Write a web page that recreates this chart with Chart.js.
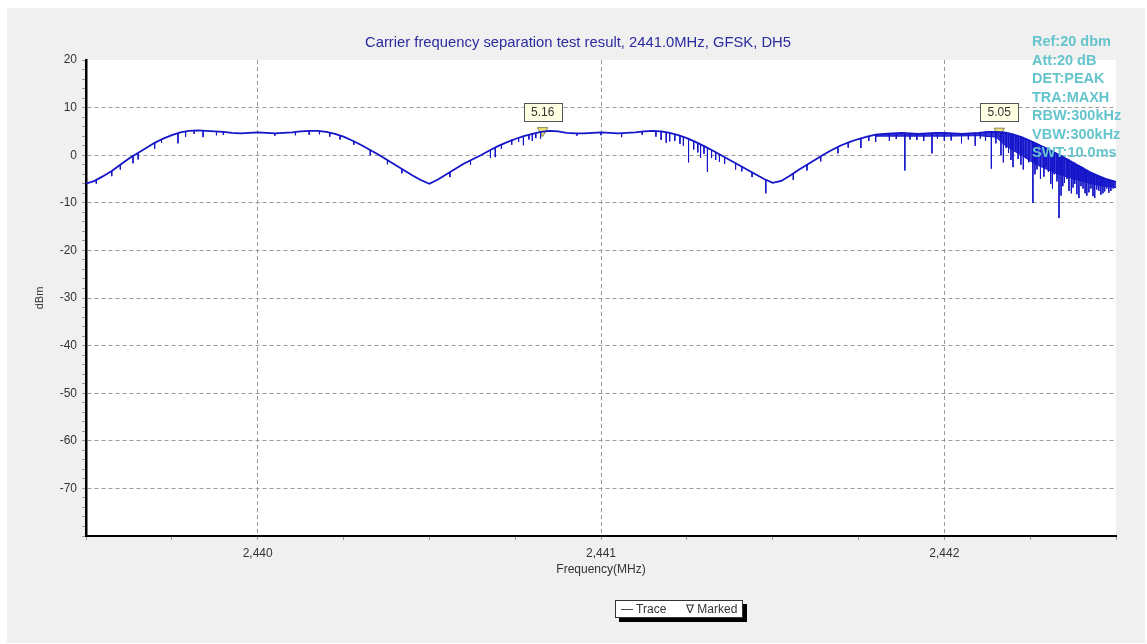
<!DOCTYPE html>
<html lang="en">
<head>
<meta charset="UTF-8">
<title>Carrier frequency separation</title>
<script src="https://cdn.jsdelivr.net/npm/chart.js"></script>
<style>
    body { margin: 0; background: #fff; font-family: "Liberation Sans", Arial, sans-serif; }
    #panel { position: absolute; left: 7px; top: 8px; width: 1138px; height: 635px; background: #f0f0f0; }
    #title { position: absolute; left: 348px; width: 460px; top: 33px; text-align: center; color: #2b2ba0; font-size: 14.8px; line-height: 18px; white-space: nowrap; }
    #info { position: absolute; left: 1032px; top: 32px; color: #66c4cc; font-weight: bold; font-size: 14.5px; line-height: 18.5px; white-space: pre; }
    #legend { position: absolute; left: 615px; top: 600px; width: 126px; height: 16px; background: #fff; border: 1px solid #333;
              box-shadow: 4px 4px 0 #000; font-size: 12px; color: #333; line-height: 16px; }
    #legend span { position: absolute; top: 0; }
</style>
</head>
<body>
<div id="panel"><canvas id="chart" width="1138" height="635"></canvas></div>
<div id="title"></div>
<div id="info"></div>
<div id="legend"><span style="left:5px">&mdash; Trace</span><span style="left:70px">&#8711; Marked</span></div>

<script>
    // трасса (огибающая), MHz / dBm
    const traceFreq = [
        2439.500, 2439.525, 2439.550, 2439.575, 2439.600, 2439.625, 2439.650, 2439.675, 2439.700, 2439.725,
        2439.750, 2439.775, 2439.800, 2439.825, 2439.850, 2439.875, 2439.900, 2439.925, 2439.950, 2439.975,
        2440.000, 2440.025, 2440.050, 2440.075, 2440.100, 2440.125, 2440.150, 2440.175, 2440.200, 2440.225,
        2440.250, 2440.275, 2440.300, 2440.325, 2440.350, 2440.375, 2440.400, 2440.425, 2440.450, 2440.475,
        2440.500, 2440.525, 2440.550, 2440.575, 2440.600, 2440.625, 2440.650, 2440.675, 2440.700, 2440.725,
        2440.750, 2440.775, 2440.800, 2440.825, 2440.850, 2440.875, 2440.900, 2440.925, 2440.950, 2440.975,
        2441.000, 2441.025, 2441.050, 2441.075, 2441.100, 2441.125, 2441.150, 2441.175, 2441.200, 2441.225,
        2441.250, 2441.275, 2441.300, 2441.325, 2441.350, 2441.375, 2441.400, 2441.425, 2441.450, 2441.475,
        2441.500, 2441.525, 2441.550, 2441.575, 2441.600, 2441.625, 2441.650, 2441.675, 2441.700, 2441.725,
        2441.750, 2441.775, 2441.800, 2441.825, 2441.850, 2441.875, 2441.900, 2441.925, 2441.950, 2441.975,
        2442.000, 2442.025, 2442.050, 2442.075, 2442.100, 2442.125, 2442.150, 2442.175, 2442.200, 2442.225,
        2442.250, 2442.275, 2442.300, 2442.325, 2442.350, 2442.375, 2442.400, 2442.425, 2442.450, 2442.475,
        2442.500
    ];
    const traceDbm = [
        -6.0, -5.4, -4.4, -3.3, -2.0, -0.7, 0.4, 1.5, 2.6, 3.5,
        4.2, 4.8, 5.1, 5.2, 5.1, 5.0, 4.9, 4.7, 4.6, 4.7,
        4.8, 4.7, 4.6, 4.7, 4.8, 5.0, 5.1, 5.1, 4.9, 4.5,
        3.9, 3.1, 2.2, 1.2, 0.2, -0.9, -2.0, -3.1, -4.2, -5.2,
        -6.0, -5.1, -4.0, -2.9, -1.8, -0.9, 0.0, 1.0, 1.9, 2.7,
        3.4, 4.0, 4.5, 4.9, 5.1, 5.0, 4.7, 4.6, 4.6, 4.7,
        4.8, 4.7, 4.6, 4.7, 4.8, 5.0, 5.1, 5.0, 4.7, 4.2,
        3.6, 2.8, 1.9, 1.0, 0.0, -1.0, -2.0, -3.0, -4.0, -5.0,
        -5.8, -5.4, -4.3, -3.1, -2.0, -0.9, 0.2, 1.2, 2.1, 2.8,
        3.4, 3.9, 4.3, 4.5, 4.6, 4.7, 4.6, 4.5, 4.6, 4.7,
        4.7, 4.6, 4.5, 4.6, 4.7, 4.9, 4.9, 4.8, 4.4, 3.8,
        3.0, 2.2, 1.3, 0.4, -0.6, -1.6, -2.6, -3.6, -4.4, -5.1,
        -5.6
    ];

    // провалы шума: [частота, верх, низ]
    const spikes = [
        [2439.530, -5.2, -6.0], [2439.575, -3.3, -4.4], [2439.600, -2.0, -3.0], [2439.637, -0.1, -1.7],
        [2439.652, 0.4, -0.9], [2439.700, 2.6, 1.4], [2439.720, 3.4, 2.6], [2439.768, 4.6, 2.5],
        [2439.790, 5.0, 3.9], [2439.815, 5.2, 4.5], [2439.841, 5.1, 3.8], [2439.880, 5.0, 4.2],
        [2439.900, 4.9, 4.3], [2440.050, 4.6, 4.1], [2440.110, 4.9, 4.2], [2440.150, 5.1, 4.3],
        [2440.180, 5.1, 4.4], [2440.210, 4.8, 3.9], [2440.240, 4.2, 3.3], [2440.280, 3.0, 2.2],
        [2440.328, 1.1, 0.0], [2440.378, -1.0, -1.9], [2440.420, -2.9, -3.8], [2440.560, -3.6, -4.6],
        [2440.620, -1.1, -2.0], [2440.678, 1.1, -0.6], [2440.692, 1.6, -0.4], [2440.710, 2.2, 1.3],
        [2440.740, 3.3, 2.2], [2440.760, 3.7, 2.8], [2440.774, 4.0, 2.1], [2440.790, 4.3, 3.3],
        [2440.800, 4.5, 3.0], [2440.810, 4.6, 3.6], [2440.824, 4.9, 3.5], [2440.930, 4.6, 4.1],
        [2441.000, 4.8, 4.2], [2441.060, 4.6, 3.8], [2441.120, 5.0, 4.3], [2441.160, 5.1, 3.9],
        [2441.175, 5.0, 3.2], [2441.190, 4.8, 2.6], [2441.200, 4.7, 2.9], [2441.215, 4.4, 3.0],
        [2441.230, 4.1, 2.4], [2441.240, 3.9, 2.0], [2441.255, 3.5, -1.5], [2441.270, 3.0, 1.2],
        [2441.282, 2.6, 0.6], [2441.290, 2.3, -0.5], [2441.300, 2.0, 0.3], [2441.310, 1.6, -3.5],
        [2441.322, 1.1, -0.6], [2441.334, 0.6, -1.0], [2441.345, 0.2, -1.4], [2441.360, -0.4, -1.8],
        [2441.392, -1.7, -3.0], [2441.410, -2.4, -3.4], [2441.440, -3.6, -4.6], [2441.480, -5.1, -8.0],
        [2441.560, -3.9, -5.2], [2441.600, -2.0, -3.2], [2441.640, -0.2, -1.3], [2441.690, 1.8, 0.4],
        [2441.720, 2.6, 1.6], [2441.757, 3.5, 1.5], [2441.780, 4.0, 3.0], [2441.800, 4.3, 2.8],
        [2441.840, 4.6, 3.0], [2441.860, 4.6, 3.4], [2441.885, 4.7, -3.2], [2441.900, 4.6, 3.3],
        [2441.920, 4.5, 3.2], [2441.940, 4.5, 3.0], [2441.964, 4.7, 0.4], [2441.980, 4.7, 3.5],
        [2442.000, 4.7, 3.0], [2442.020, 4.6, 3.1], [2442.050, 4.5, 2.5], [2442.070, 4.6, 3.3],
        [2442.090, 4.7, 2.0], [2442.105, 4.7, 3.5], [2442.120, 4.9, 3.0], [2442.137, 4.9, -2.8],
        [2442.150, 4.9, 2.5], [2442.165, 4.8, 0.0], [2442.172, 4.8, -1.5], [2442.180, 4.8, 1.5],
        [2442.187, 4.7, 0.5], [2442.194, 4.5, -1.0], [2442.200, 4.4, -2.5], [2442.208, 4.2, 1.0],
        [2442.215, 4.0, -0.8], [2442.223, 3.8, -2.0], [2442.230, 3.6, -3.0], [2442.237, 3.4, -0.5],
        [2442.246, 3.1, -1.5], [2442.258, 2.8, -10.0], [2442.264, 2.6, -4.0], [2442.270, 2.4, -3.0],
        [2442.280, 2.1, -5.0], [2442.290, 1.8, -4.5], [2442.296, 1.6, -2.5], [2442.303, 1.3, -3.5],
        [2442.310, 1.0, -6.0], [2442.315, 0.9, -7.0], [2442.320, 0.7, -4.0], [2442.328, 0.4, -5.5],
        [2442.334, 0.2, -13.2], [2442.340, 0.0, -8.5], [2442.345, -0.2, -6.5], [2442.350, -0.4, -5.8],
        [2442.357, -0.7, -5.0], [2442.363, -0.9, -7.5], [2442.370, -1.2, -8.0], [2442.375, -1.4, -6.8],
        [2442.380, -1.6, -6.0], [2442.386, -1.9, -8.2], [2442.392, -2.1, -9.0], [2442.398, -2.3, -6.5],
        [2442.404, -2.6, -7.0], [2442.410, -2.9, -8.0], [2442.415, -3.2, -8.5], [2442.421, -3.4, -7.8],
        [2442.427, -3.7, -7.0], [2442.433, -3.9, -8.6], [2442.438, -4.1, -9.0], [2442.444, -4.3, -7.2],
        [2442.450, -4.4, -7.5], [2442.456, -4.6, -8.3], [2442.462, -4.8, -8.0], [2442.467, -4.9, -7.6],
        [2442.473, -5.1, -7.0], [2442.479, -5.2, -7.9], [2442.485, -5.3, -7.5], [2442.492, -5.4, -7.0]
    ];

    // нижняя граница плотного шума справа
    const bandFreq = [2441.80, 2441.90, 2442.00, 2442.10, 2442.15, 2442.175, 2442.20, 2442.225, 2442.25, 2442.275,
                      2442.30, 2442.325, 2442.35, 2442.375, 2442.40, 2442.425, 2442.45, 2442.475, 2442.50];
    const bandLow = [4.0, 4.0, 4.0, 4.1, 3.8, 2.2, 1.0, 0.0, -1.2, -2.2,
                     -3.0, -3.8, -4.4, -4.9, -5.4, -5.9, -6.3, -6.6, -6.8];

    // маркеры
    const markerFreq = [2440.83, 2442.16];
    const markerDbm = [5.16, 5.05];
    const markerLabel = ['5.16', '5.05'];

    const infoLines = ['Ref:20 dbm', 'Att:20 dB', 'DET:PEAK', 'TRA:MAXH', 'RBW:300kHz', 'VBW:300kHz', 'SWT:10.0ms'];
    const titleText = 'Carrier frequency separation test result, 2441.0MHz, GFSK, DH5';

    document.getElementById('info').textContent = infoLines.join('\n');
    document.getElementById('title').textContent = titleText;

    const spikeData = [];
    spikes.forEach(s => {
        spikeData.push({ x: s[0], y: s[1] }, { x: s[0], y: s[2] }, { x: s[0], y: null });
    });

    const blue = '#1414c8';

    const whiteArea = {
        id: 'whiteArea',
        beforeDraw(chart) {
            const { ctx, chartArea: a } = chart;
            ctx.save();
            ctx.fillStyle = '#fff';
            ctx.fillRect(a.left, a.top, a.right - a.left, a.bottom - a.top);
            ctx.restore();
        }
    };

    const markerBoxes = {
        id: 'markerBoxes',
        afterDatasetsDraw(chart) {
            const { ctx, scales: { x, y } } = chart;
            ctx.save();
            ctx.font = '12px "Liberation Sans", Arial, sans-serif';
            ctx.textAlign = 'center';
            ctx.textBaseline = 'middle';
            markerFreq.forEach((f, i) => {
                const px = x.getPixelForValue(f);
                const py = y.getPixelForValue(markerDbm[i]);
                const w = 38, h = 18;
                const top = py - 6 - h - 4;
                ctx.fillStyle = '#ffffe4';
                ctx.fillRect(px - w / 2, top, w, h);
                ctx.strokeStyle = '#555';
                ctx.lineWidth = 1;
                ctx.strokeRect(Math.round(px - w / 2) + 0.5, Math.round(top) + 0.5, w, h);
                ctx.fillStyle = '#333';
                ctx.fillText(markerLabel[i], px, top + h / 2 + 1);
            });
            ctx.restore();
        }
    };

    const isInt = v => Math.abs(v - Math.round(v)) < 1e-6;

    new Chart(document.getElementById('chart'), {
        type: 'scatter',
        data: {
            datasets: [
                {
                    label: 'Trace',
                    data: traceFreq.map((f, i) => ({ x: f, y: traceDbm[i] })),
                    showLine: true,
                    borderColor: blue,
                    borderWidth: 1.8,
                    pointRadius: 0
                },
                {
                    label: 'Noise',
                    data: spikeData,
                    showLine: true,
                    spanGaps: false,
                    borderColor: blue,
                    borderWidth: 1,
                    pointRadius: 0
                },
                {
                    label: 'Band',
                    data: bandFreq.map((f, i) => ({ x: f, y: bandLow[i] })),
                    showLine: true,
                    borderColor: blue,
                    borderWidth: 1,
                    backgroundColor: 'rgba(20, 20, 210, 0.85)',
                    fill: 0,
                    pointRadius: 0
                },
                {
                    label: 'Marked',
                    data: markerFreq.map((f, i) => ({ x: f, y: markerDbm[i] })),
                    pointStyle: 'triangle',
                    rotation: 180,
                    pointRadius: 6,
                    backgroundColor: '#ece57a',
                    borderColor: '#8a8650',
                    borderWidth: 1
                }
            ]
        },
        options: {
            responsive: false,
            animation: false,
            layout: { padding: { left: 0, right: 29, top: 52, bottom: 61 } },
            plugins: {
                legend: { display: false },
                tooltip: { enabled: false },
                title: { display: false }
            },
            scales: {
                x: {
                    type: 'linear',
                    min: 2439.5,
                    max: 2442.5,
                    afterFit: s => { s.height = 46; },
                    ticks: {
                        stepSize: 0.25,
                        autoSkip: false,
                        maxRotation: 0,
                        padding: 6,
                        color: '#333',
                        font: { size: 12, family: '"Liberation Sans", Arial, sans-serif' },
                        callback: v => isInt(v) ? Math.round(v).toLocaleString('en-US') : ''
                    },
                    grid: {
                        color: c => (c.tick && isInt(c.tick.value) && c.tick.value > 2439.5 && c.tick.value < 2442.5) ? '#9a9a9a' : 'rgba(0,0,0,0)',
                        tickColor: '#999',
                        tickLength: 4,
                        tickBorderDash: []
                    },
                    border: { color: '#000', width: 2, dash: [4, 3] },
                    title: {
                        display: true,
                        text: 'Frequency(MHz)',
                        color: '#333',
                        font: { size: 12, family: '"Liberation Sans", Arial, sans-serif' },
                        padding: 5
                    }
                },
                y: {
                    min: -80,
                    max: 20,
                    afterFit: s => { s.width = 79; },
                    ticks: {
                        stepSize: 2,
                        autoSkip: false,
                        padding: 5,
                        color: '#333',
                        font: { size: 12, family: '"Liberation Sans", Arial, sans-serif' },
                        callback: v => (v % 10 === 0 && v > -80) ? v : ''
                    },
                    grid: {
                        color: c => (c.tick && c.tick.value % 10 === 0 && c.tick.value < 20 && c.tick.value > -80) ? '#9a9a9a' : 'rgba(0,0,0,0)',
                        tickColor: '#999',
                        tickLength: 4,
                        tickBorderDash: []
                    },
                    border: { color: '#000', width: 2.5, dash: [4, 3] },
                    title: {
                        display: true,
                        text: 'dBm',
                        color: '#333',
                        font: { size: 11, family: '"Liberation Sans", Arial, sans-serif' },
                        padding: { top: 26, bottom: 0 }
                    }
                }
            }
        },
        plugins: [whiteArea, markerBoxes]
    });
</script>
</body>
</html>
